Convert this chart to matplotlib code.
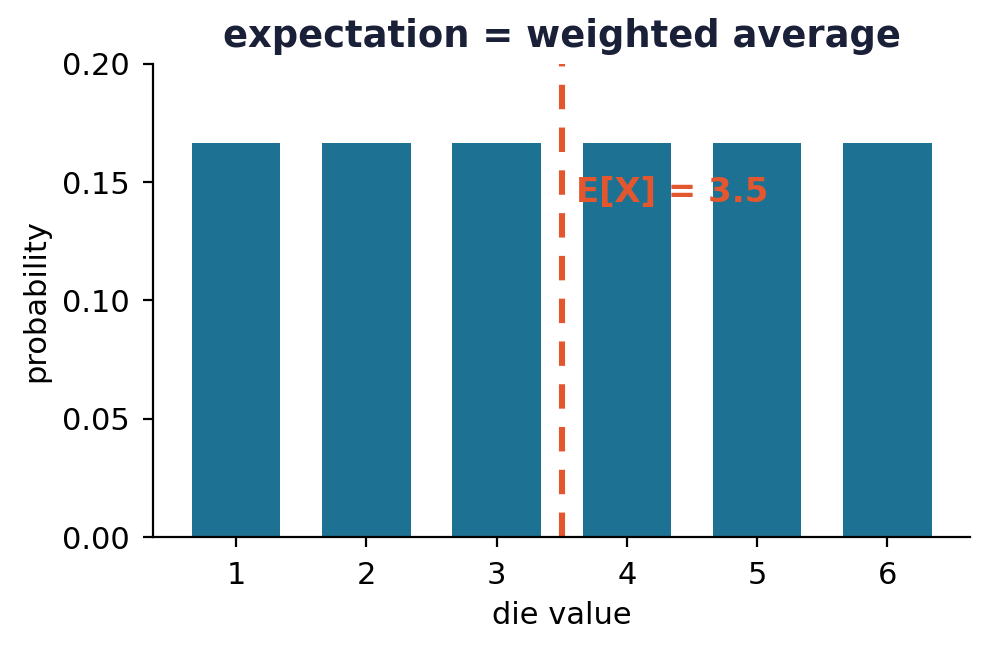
import numpy as np
import matplotlib
matplotlib.use("Agg")
import matplotlib.pyplot as plt

# fair six-sided die
faces = [1, 2, 3, 4, 5, 6]
probs = [1/6, 1/6, 1/6, 1/6, 1/6, 1/6]
expected = 3.5

bar_color = "#1d7293"
line_color = "#e4572e"
title_color = "#1b2039"

fig = plt.figure(figsize=(4.94, 3.255), dpi=200)
ax = fig.add_axes([0.155, 0.175, 0.827, 0.727])

ax.bar(faces, probs, width=0.68, color=bar_color)
ax.axvline(expected, color=line_color, lw=2.2, dashes=(4, 3))
ax.text(expected + 0.11, 0.1455, "E[X] = " + str(expected), color=line_color,
        fontsize=12.2, fontweight="bold", va="center")

ax.set_xlim(0.365, 6.635)
ax.set_ylim(0, 0.2)
ax.set_yticks([0, 0.05, 0.10, 0.15, 0.20])
ax.set_xticks(faces)
ax.tick_params(labelsize=11, pad=5)
ax.set_xlabel("die value", fontsize=11)
ax.set_ylabel("probability", fontsize=11)
ax.set_title("expectation = weighted average", fontsize=13.3, fontweight="bold",
             color=title_color)
ax.spines["top"].set_visible(False)
ax.spines["right"].set_visible(False)

fig.savefig("out.png", dpi=200)
